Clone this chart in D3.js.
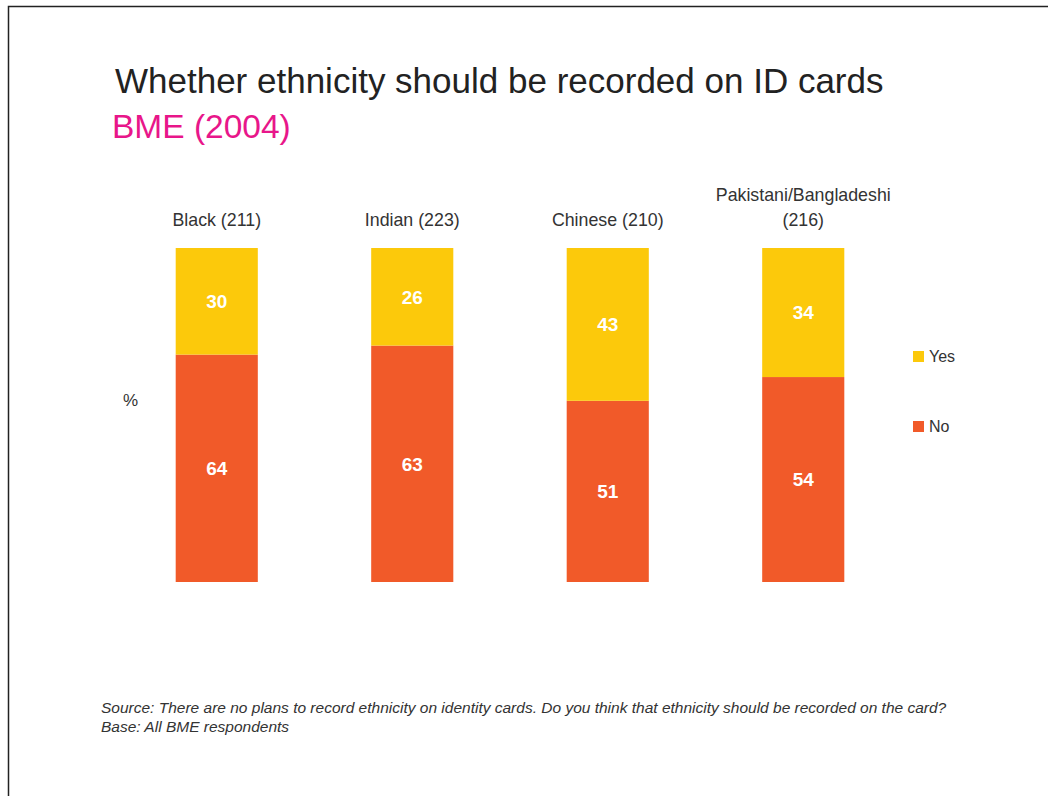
<!DOCTYPE html>
<html>
<head>
<meta charset="utf-8">
<script src="https://cdn.jsdelivr.net/npm/d3@7"></script>
<style>
	body { margin: 0; background: #fff; }
	svg { display: block; font-family: "Liberation Sans", Arial, sans-serif; }
</style>
</head>
<body>
<svg id="chart" width="1048" height="796"></svg>
<script>
var groups = ["Black (211)", "Indian (223)", "Chinese (210)", "Pakistani/Bangladeshi (216)"]
var group_lines = [["Black (211)"], ["Indian (223)"], ["Chinese (210)"], ["Pakistani/Bangladeshi", "(216)"]]
var no_values = [64, 63, 51, 54]
var yes_values = [30, 26, 43, 34]
var series_names = ["No", "Yes"]
var colours = {"No": "#f15a29", "Yes": "#fcc90b"}

var svg = d3.select("#chart")

// page frame
svg.append("path")
	.attr("d", "M8.5,796 V6.5 H1048")
	.attr("fill", "none")
	.attr("stroke", "#222")
	.attr("stroke-width", 1.5)

svg.append("text")
	.attr("x", 115).attr("y", 93)
	.attr("font-size", 35)
	.attr("fill", "#222")
	.text("Whether ethnicity should be recorded on ID cards")

svg.append("text")
	.attr("x", 112).attr("y", 138)
	.attr("font-size", 33.5)
	.attr("fill", "#e8168a")
	.text("BME (2004)")

var data = groups.map(function(g, i) {
	return {group: g, No: no_values[i], Yes: yes_values[i]}
})

// bars are shown as a share of the answered total
var stack = d3.stack().keys(series_names).offset(d3.stackOffsetExpand)
var stacked = stack(data)

var x = d3.scaleBand().domain(groups).range([119, 901]).paddingInner(0.58).paddingOuter(0.29)
var y = d3.scaleLinear().domain([0, 1]).range([582, 248])

var layers = svg.selectAll(".layer")
	.data(stacked)
	.enter()
	.append("g")
	.attr("class", "layer")
	.attr("fill", function(d) {return colours[d.key]})

layers.selectAll("rect")
	.data(function(d) {return d})
	.enter()
	.append("rect")
	.attr("x", function(d) {return x(d.data.group)})
	.attr("width", x.bandwidth())
	.attr("y", function(d) {return y(d[1])})
	.attr("height", function(d) {return y(d[0]) - y(d[1])})

layers.each(function(layer) {
	d3.select(this).selectAll("text")
		.data(layer)
		.enter()
		.append("text")
		.attr("x", function(d) {return x(d.data.group) + x.bandwidth()/2})
		.attr("y", function(d) {return (y(d[0]) + y(d[1]))/2})
		.attr("dy", "0.36em")
		.attr("text-anchor", "middle")
		.attr("font-size", 19)
		.attr("font-weight", "bold")
		.attr("fill", "#fff")
		.text(function(d) {return d.data[layer.key]})
})

// category headers
groups.forEach(function(g, i) {
	var lines = group_lines[i]
	var t = svg.append("text")
		.attr("text-anchor", "middle")
		.attr("font-size", 17.8)
		.attr("fill", "#333")
	lines.forEach(function(line, j) {
		t.append("tspan")
			.attr("x", x(g) + x.bandwidth()/2)
			.attr("y", 226 - (lines.length - 1 - j) * 25)
			.text(line)
	})
})

svg.append("text")
	.attr("x", 123).attr("y", 406)
	.attr("font-size", 17)
	.attr("fill", "#333")
	.text("%")

// legend
var legend_y = {"Yes": 356, "No": 426}
var legend = svg.selectAll(".legend")
	.data(["Yes", "No"])
	.enter()
	.append("g")
	.attr("class", "legend")
	.attr("transform", function(d) {return "translate(913," + legend_y[d] + ")"})

legend.append("rect")
	.attr("x", 0).attr("y", -5)
	.attr("width", 11).attr("height", 11)
	.attr("fill", function(d) {return colours[d]})

legend.append("text")
	.attr("x", 16).attr("y", 0)
	.attr("dy", "0.36em")
	.attr("font-size", 16)
	.attr("fill", "#333")
	.text(function(d) {return d})

var notes = ["Source: There are no plans to record ethnicity on identity cards. Do you think that ethnicity should be recorded on the card?",
	"Base: All BME respondents"]

svg.selectAll(".note")
	.data(notes)
	.enter()
	.append("text")
	.attr("class", "note")
	.attr("x", 101)
	.attr("y", function(d, i) {return 713 + i*19})
	.attr("font-size", 15.5)
	.attr("font-style", "italic")
	.attr("fill", "#333")
	.text(function(d) {return d})
</script>
</body>
</html>
